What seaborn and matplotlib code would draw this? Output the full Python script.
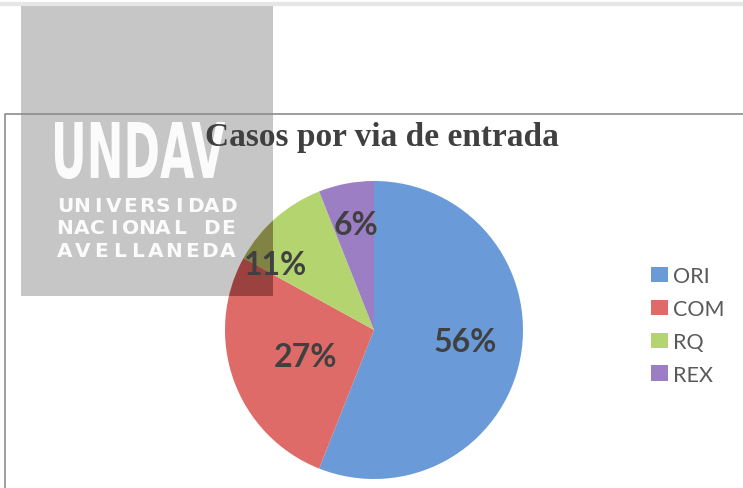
import numpy as np
import matplotlib
matplotlib.use("Agg")
import matplotlib.pyplot as plt
import seaborn as sns
from matplotlib.patches import Rectangle, Circle, PathPatch
from matplotlib.textpath import TextPath
from matplotlib.font_manager import FontProperties
from matplotlib.transforms import Affine2D

# datos
categorias = ["ORI", "COM", "RQ", "REX"]
porcentajes = [56, 27, 11, 6]
colores = ["#6A9AD7", "#DE6B68", "#B4D46F", "#9C7EC5"]
titulo = "Casos por via de entrada"
logo_lineas = ["UNIVERSIDAD", "NACIONAL DE", "AVELLANEDA"]

sns.set_theme(style="white")
plt.rcParams['font.family'] = ['Lato', 'DejaVu Sans']

W, H = 743, 489
fig = plt.figure(figsize=(W / 100, H / 100), dpi=100)
fig.patch.set_facecolor('white')

# fondo en pixeles (marco y rectangulo gris del logo)
bg = fig.add_axes([0, 0, 1, 1], zorder=0)
bg.set_xlim(0, W)
bg.set_ylim(H, 0)
bg.axis('off')
bg.plot([0, W], [5, 5], color='#E6E6E6', lw=3, solid_capstyle='butt')
bg.plot([5, 5, W], [H, 115, 115], color='#8C8C8C', lw=1.2)
bg.add_patch(Rectangle((21, 5), 252, 292, color='#C6C6C6', lw=0, zorder=1))

# torta
cx, cy, r = 374, 331, 149
ax = fig.add_axes([(cx - r) / W, (H - cy - r) / H, 2 * r / W, 2 * r / H], zorder=1)
ax.patch.set_alpha(0)
wedges, texts, autotexts = ax.pie(
    porcentajes, colors=colores, startangle=90, counterclock=False,
    autopct=lambda p: f'{p:.0f}%', pctdistance=0.62,
    wedgeprops=dict(linewidth=0),
    textprops=dict(fontsize=23, weight='bold', color='#404040'))

# posicion de las etiquetas (como en Excel)
radios = [0.62, 0.49, 0.79, 0.72]
giros = [3.4, 1.2, 15, -1.2]
for t, w, rf, da in zip(autotexts, wedges, radios, giros):
    ang = np.deg2rad((w.theta1 + w.theta2) / 2 + da)
    t.set_position((rf * np.cos(ang), rf * np.sin(ang)))
    t.set_zorder(5)

# sombra del logo sobre la torta
sombra = Rectangle((21, 5), 252, 292, transform=bg.transData,
                   color='#300000', alpha=0.38, lw=0, zorder=2)
ax.add_patch(sombra)
sombra.set_clip_path(Circle((0, 0), 1, transform=ax.transData))
ax.set_xlim(-1, 1)
ax.set_ylim(-1, 1)
ax.set_aspect('auto')
ax.axis('off')

fig.legend(wedges, categorias, loc='upper left',
           bbox_to_anchor=(651 / W, 1 - 267 / H), frameon=False,
           borderpad=0, borderaxespad=0,
           fontsize=15.5, handlelength=0.78, handleheight=0.74,
           handletextpad=0.23, labelspacing=0.6, labelcolor='#595959')

# logo blanco
fg = fig.add_axes([0, 0, 1, 1], zorder=3)
fg.set_xlim(0, W)
fg.set_ylim(H, 0)
fg.axis('off')
fg.patch.set_alpha(0)
tp = TextPath((0, 0), "UNDAV", prop=FontProperties(family='DejaVu Sans', weight='bold'), size=1)
ext = tp.get_extents()
tr = Affine2D().translate(-ext.x0, -ext.y0).scale(170 / ext.width, -57 / ext.height).translate(55, 180)
fg.add_patch(PathPatch(tr.transform_path(tp), color='white', lw=0, alpha=0.95))
for linea, yb in zip(logo_lineas, [212, 234, 257]):
    xs = np.linspace(65, 228, len(linea))
    for ch, x in zip(linea, xs):
        fg.text(x, yb, ch, family='DejaVu Sans', weight='bold', fontsize=14.5,
                color='white', alpha=0.95, ha='center', va='baseline')

# titulo por encima del logo
fg.text(382, 146, titulo, family='Liberation Serif', weight='bold',
        fontsize=24, color='#404040', ha='center', va='baseline', zorder=5)

fig.savefig('out.png', dpi=100, facecolor='white')
